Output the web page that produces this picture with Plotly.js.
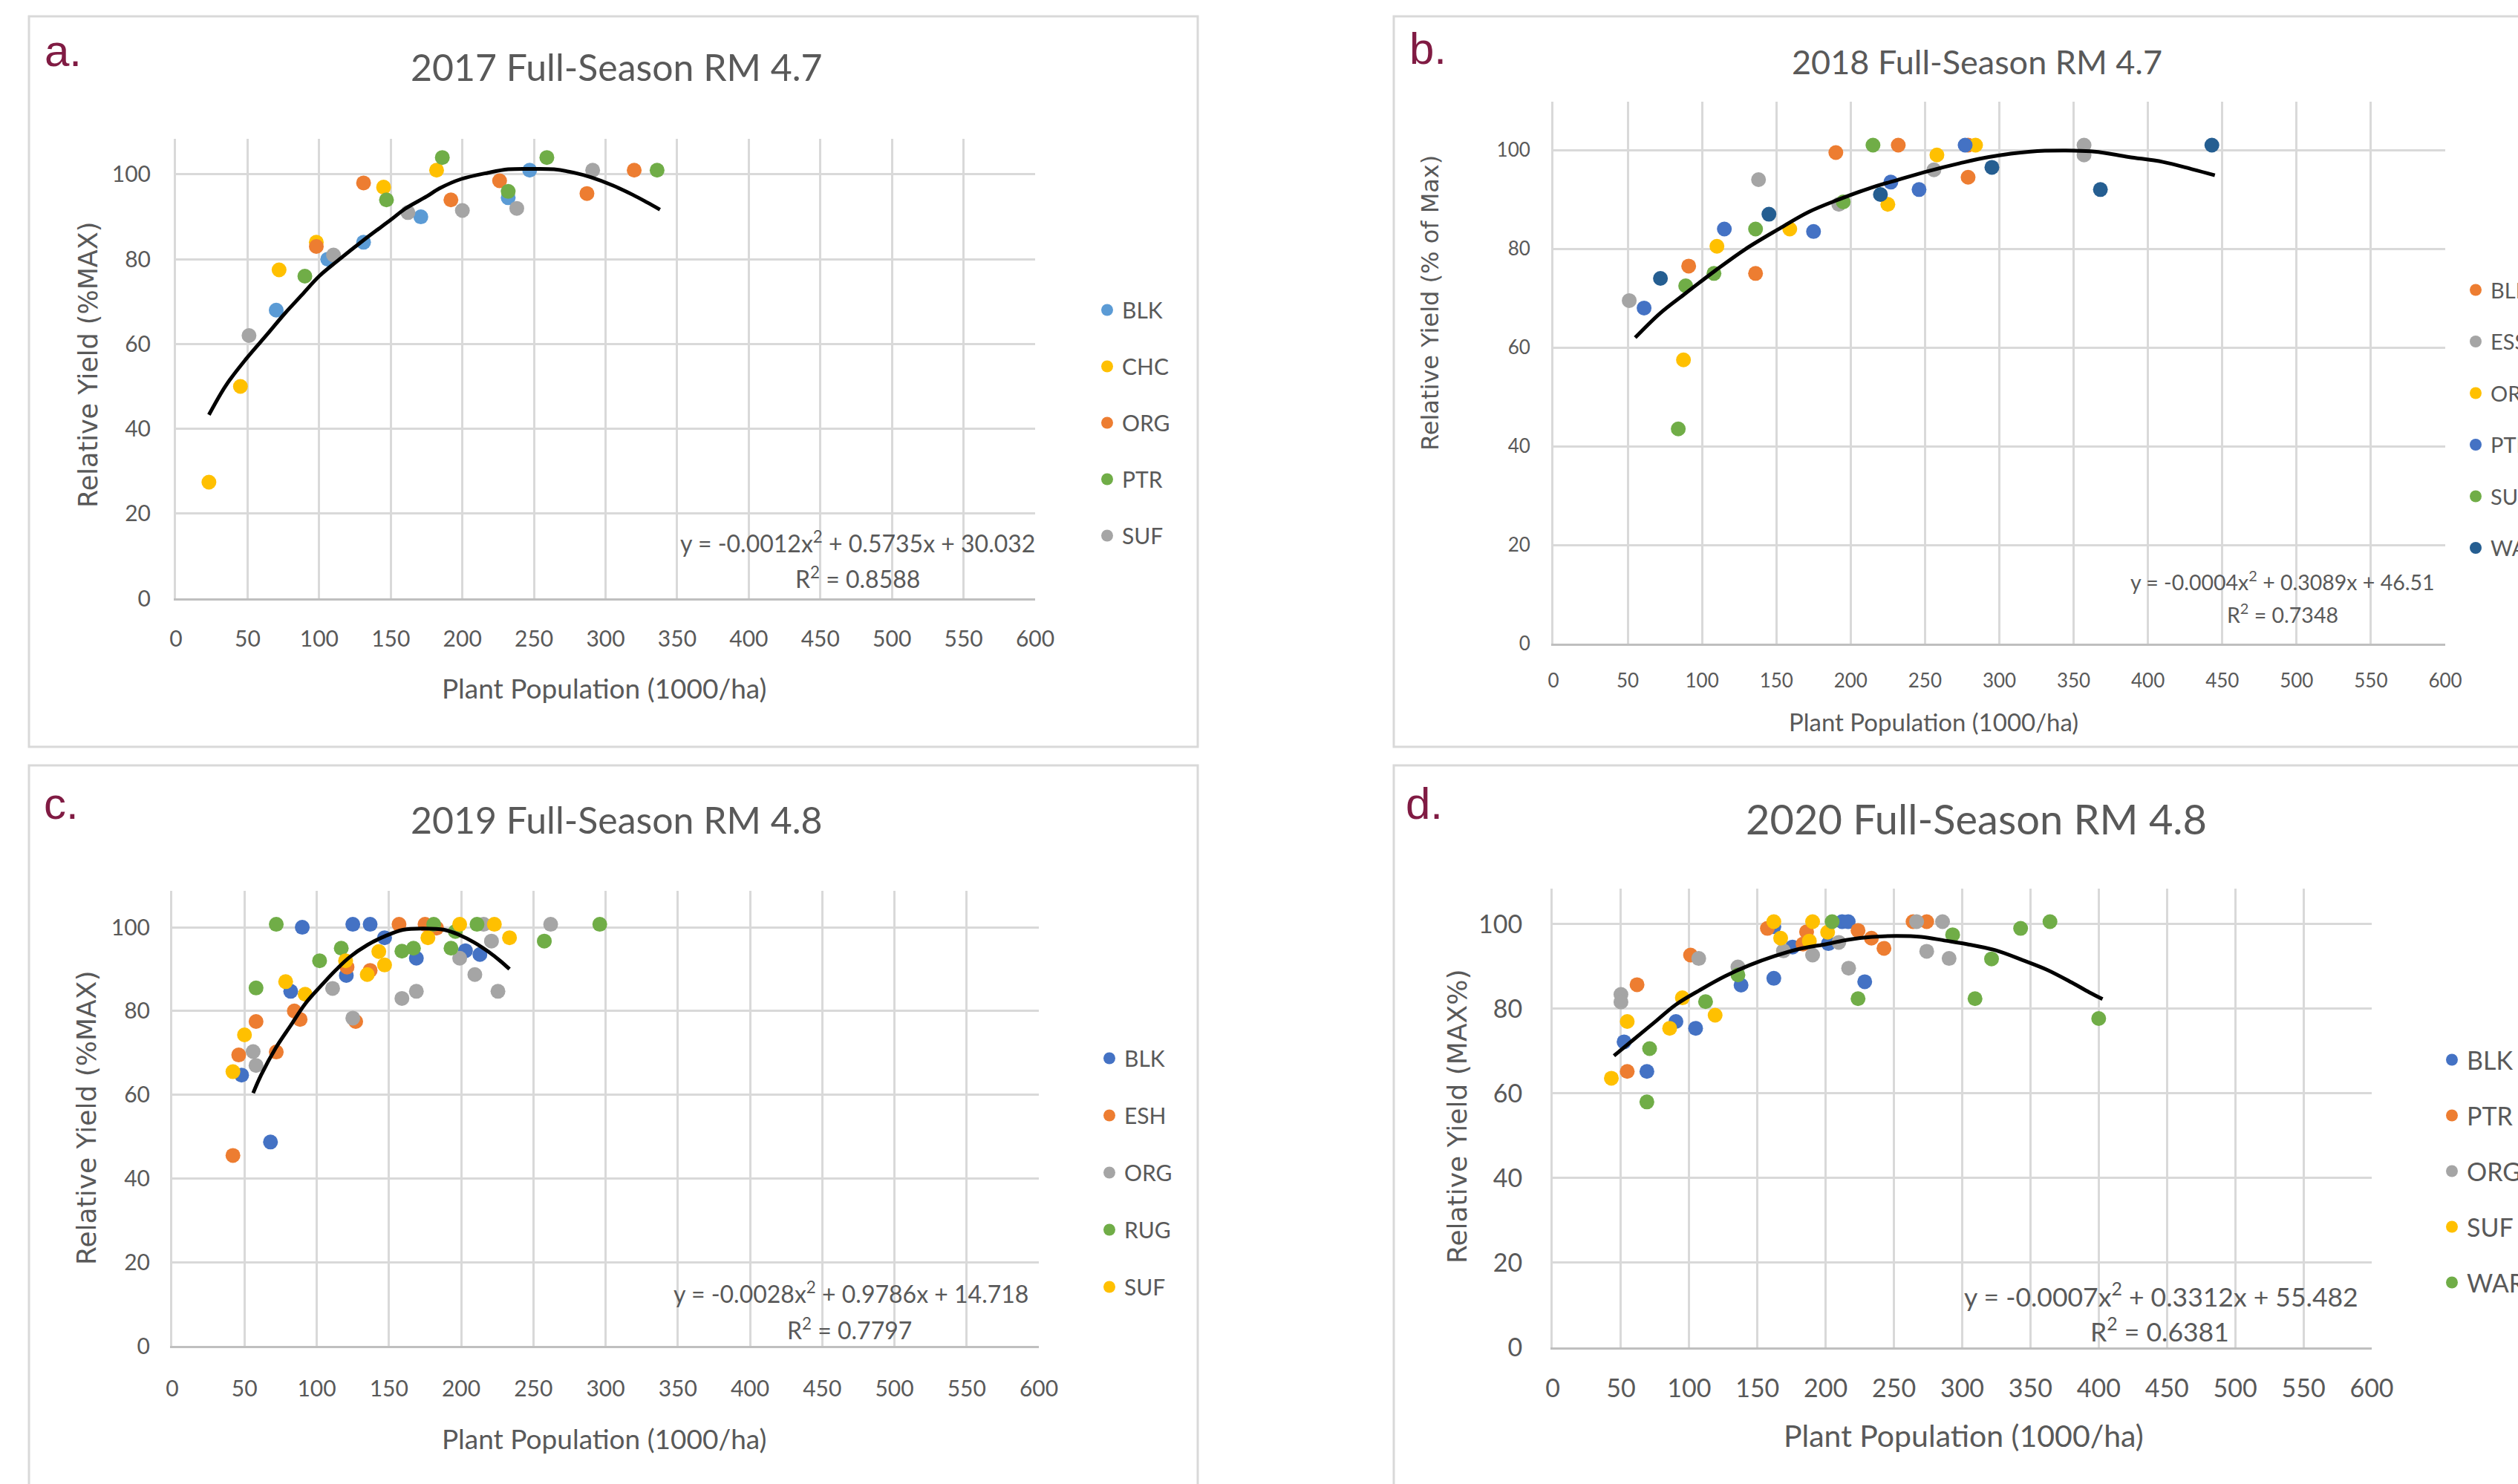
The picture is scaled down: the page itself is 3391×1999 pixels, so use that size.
<!DOCTYPE html>
<html>
<head>
<meta charset="utf-8">
<script src="https://cdn.plot.ly/plotly-3.0.1.min.js"></script>
<style>html,body{margin:0;padding:0;background:#fff;}#chart{width:3391px;height:1999px;}</style>
</head>
<body>
<div id="chart"></div>
<script>
// ---------- DATA ----------
// Panel a: 2017 Full-Season RM 4.7
const a_series = ['BLK', 'CHC', 'ORG', 'PTR', 'SUF'];
const a_BLK_x = [70, 106, 131, 171, 232, 247];
const a_BLK_y = [68, 80, 84, 90, 94.5, 101];
const a_CHC_x = [23, 45, 72, 98, 145, 182];
const a_CHC_y = [27.4, 50, 77.5, 84, 97, 101];
const a_ORG_x = [98, 131, 192, 226, 287, 320];
const a_ORG_y = [83, 98, 94, 98.5, 95.5, 101];
const a_PTR_x = [90, 147, 186, 232, 259, 336];
const a_PTR_y = [76, 94, 104, 96, 104, 101];
const a_SUF_x = [51, 110, 162, 200, 238, 291];
const a_SUF_y = [62, 81, 91, 91.5, 92, 101];
// polynomial trendline
const a_trend_x = [23, 35, 49, 64, 76, 88, 100, 112, 131, 150, 160, 175, 184, 199, 218, 232, 248, 264, 278, 290, 305, 319, 329, 338];
const a_trend_y = [43.3, 50.3, 56.5, 62.4, 67.2, 71.6, 76, 79.4, 84.5, 89.3, 91.9, 94.8, 96.7, 98.9, 100.4, 101.2, 101.3, 101.2, 100.4, 99.3, 97.4, 95.2, 93.4, 91.7];
const a_eq = 'y = -0.0012x<sup>2</sup> + 0.5735x + 30.032';
const a_r2 = 'R<sup>2</sup> = 0.8588';

// Panel b: 2018 Full-Season RM 4.7
const b_series = ['BLK', 'ESS', 'ORG', 'PTR', 'SUF', 'WAR'];
const b_BLK_x = [91, 136, 190, 232, 279, 279];
const b_BLK_y = [76.5, 75, 99.5, 101, 101, 94.5];
const b_ESS_x = [51, 138, 192, 256, 357, 357];
const b_ESS_y = [69.5, 94, 89, 96, 101, 99];
const b_ORG_x = [87.5, 110, 159, 225, 258, 284];
const b_ORG_y = [57.5, 80.5, 84, 89, 99, 101];
const b_PTR_x = [61, 115, 175, 227, 246, 277];
const b_PTR_y = [68, 84, 83.5, 93.5, 92, 101];
const b_SUF_x = [84, 89, 108, 136, 195, 215];
const b_SUF_y = [43.5, 72.5, 75, 84, 89.5, 101];
const b_WAR_x = [72, 145, 220, 295, 368, 443];
const b_WAR_y = [74, 87, 91, 96.5, 92, 101];
const b_trend_x = [55, 72, 89, 109, 129, 151, 172, 192, 212, 232, 253, 273, 293, 321, 344, 364, 387, 410, 430, 445];
const b_trend_y = [62.0, 67.0, 71.0, 75.6, 79.9, 83.9, 87.5, 90.0, 92.2, 94.0, 95.8, 97.3, 98.6, 99.7, 99.9, 99.7, 98.6, 97.6, 96.1, 94.9];
const b_eq = 'y = -0.0004x<sup>2</sup> + 0.3089x + 46.51';
const b_r2 = 'R<sup>2</sup> = 0.7348';

// Panel c: 2019 Full-Season RM 4.8
const c_series = ['BLK', 'ESH', 'ORG', 'RUG', 'SUF'];
const c_BLK_x = [48, 68, 82, 90, 120.5, 125, 137, 147, 169, 203, 213];
const c_BLK_y = [64.7, 48.7, 84.7, 100, 88.5, 100.7, 100.7, 97.5, 92.6, 94.4, 93.5];
const c_ESH_x = [42, 46, 58, 72, 84.5, 88.5, 121, 127, 137, 157, 175, 183];
const c_ESH_y = [45.5, 69.5, 77.5, 70.2, 80, 78, 90.5, 77.5, 89.7, 100.7, 100.7, 99.8];
const c_ORG_x = [56, 58, 111, 125, 159, 169, 199, 209.5, 215.6, 221, 225.5, 262];
const c_ORG_y = [70.3, 67, 85.4, 78.3, 83, 84.7, 92.6, 88.7, 100.7, 96.7, 84.7, 100.7];
const c_RUG_x = [58, 72, 102, 117, 159, 167, 181, 193, 196, 211, 257.6, 296];
const c_RUG_y = [85.5, 100.7, 92, 95, 94.3, 95, 100.7, 95, 99, 100.7, 96.7, 100.7];
const c_SUF_x = [42, 50, 78.5, 92, 120, 135, 143, 147, 177, 199, 223, 233.5];
const c_SUF_y = [65.5, 74.3, 87, 84, 92, 88.7, 94.2, 91, 97.5, 100.7, 100.7, 97.5];
const c_trend_x = [56, 61.5, 71.7, 81.9, 92.2, 102.4, 112.7, 122.9, 135.2, 147.5, 159.7, 174.1, 188.4, 198.6, 208.9, 219.1, 227.3, 233.5];
const c_trend_y = [60.4, 64.7, 71.2, 76.5, 81.8, 85.8, 89.6, 92.9, 95.8, 97.9, 99.4, 99.7, 99.4, 98.2, 96.4, 94.1, 91.9, 90.0];
const c_eq = 'y = -0.0028x<sup>2</sup> + 0.9786x + 14.718';
const c_r2 = 'R<sup>2</sup> = 0.7797';

// Panel d: 2020 Full-Season RM 4.8
const d_series = ['BLK', 'PTR', 'ORG', 'SUF', 'WAR'];
const d_BLK_x = [52.3, 69, 90.3, 104.7, 138, 162, 162, 175.7, 202, 212, 216.5, 228.6];
const d_BLK_y = [72.2, 65.2, 77, 75.4, 85.6, 87.2, 99.4, 94.6, 95.4, 100.6, 100.6, 86.4];
const d_PTR_x = [54.6, 61.8, 101, 157.3, 183.4, 186, 223.7, 233.5, 242.7, 264, 274];
const d_PTR_y = [65.2, 85.7, 92.7, 99, 95.3, 98.2, 98.5, 96.7, 94.3, 100.6, 100.6];
const d_ORG_x = [50, 50, 107, 135.7, 169, 190.4, 209.6, 216.8, 266.6, 274, 285.6, 290.4];
const d_ORG_y = [83.4, 81.6, 91.9, 89.9, 93.7, 92.7, 95.7, 89.6, 100.6, 93.6, 100.6, 91.9];
const d_SUF_x = [43, 54.6, 85.7, 95, 119, 162, 167, 188, 190.4, 201.4];
const d_SUF_y = [63.6, 77, 75.4, 82.6, 78.5, 100.6, 96.7, 96, 100.6, 98.1];
const d_WAR_x = [69, 71, 112, 135.7, 204.7, 223.7, 293, 309.4, 321.5, 342.8, 364.3, 400];
const d_WAR_y = [58, 70.6, 81.7, 88, 100.6, 82.4, 97.5, 82.4, 91.8, 99, 100.6, 77.7];
const d_trend_x = [44.9, 59.5, 74.9, 90.3, 108.2, 126.2, 144.2, 162.1, 180.1, 200.6, 216, 234, 252, 270, 287.9, 303.3, 323.8, 344.3, 362.3, 380.3, 393.1, 402.8];
const d_trend_y = [68.9, 72.8, 76.9, 81.0, 84.5, 87.7, 90.3, 92.4, 94.1, 95.3, 96.3, 97.0, 97.2, 97.0, 96.1, 95.3, 93.9, 91.5, 89.2, 86.2, 83.9, 82.3];
const d_eq = 'y = -0.0007x<sup>2</sup> + 0.3312x + 55.482';
const d_r2 = 'R<sup>2</sup> = 0.6381';

const xTicks = [0, 50, 100, 150, 200, 250, 300, 350, 400, 450, 500, 550, 600];
const yTicks = [0, 20, 40, 60, 80, 100];

// ---------- STYLE ----------
const W = 3391, H = 1999;
const fx = p => p / W;
const fy = p => 1 - p / H;
const FONT = 'Lato, "Open Sans", Arial, sans-serif';
const YFONT = '"DejaVu Sans", Verdana, sans-serif';
const GREY = '#595959';
const ORANGE = '#ED7D31', GRAYC = '#A5A5A5', YELLOW = '#FFC000', GREEN = '#70AD47', BLUE = '#4472C4', LBLUE = '#5B9BD5', DBLUE = '#255E91';

const colorsA = { BLK: LBLUE, CHC: YELLOW, ORG: ORANGE, PTR: GREEN, SUF: GRAYC };
const colorsB = { BLK: ORANGE, ESS: GRAYC, ORG: YELLOW, PTR: BLUE, SUF: GREEN, WAR: DBLUE };
const colorsC = { BLK: BLUE, ESH: ORANGE, ORG: GRAYC, RUG: GREEN, SUF: YELLOW };
const colorsD = { BLK: BLUE, PTR: ORANGE, ORG: GRAYC, SUF: YELLOW, WAR: GREEN };

const dataSets = {
  a: { BLK: [a_BLK_x, a_BLK_y], CHC: [a_CHC_x, a_CHC_y], ORG: [a_ORG_x, a_ORG_y], PTR: [a_PTR_x, a_PTR_y], SUF: [a_SUF_x, a_SUF_y] },
  b: { BLK: [b_BLK_x, b_BLK_y], ESS: [b_ESS_x, b_ESS_y], ORG: [b_ORG_x, b_ORG_y], PTR: [b_PTR_x, b_PTR_y], SUF: [b_SUF_x, b_SUF_y], WAR: [b_WAR_x, b_WAR_y] },
  c: { BLK: [c_BLK_x, c_BLK_y], ESH: [c_ESH_x, c_ESH_y], ORG: [c_ORG_x, c_ORG_y], RUG: [c_RUG_x, c_RUG_y], SUF: [c_SUF_x, c_SUF_y] },
  d: { BLK: [d_BLK_x, d_BLK_y], PTR: [d_PTR_x, d_PTR_y], ORG: [d_ORG_x, d_ORG_y], SUF: [d_SUF_x, d_SUF_y], WAR: [d_WAR_x, d_WAR_y] }
};

const panels = [
  { key: 'a', series: a_series, colors: colorsA, tx: a_trend_x, ty: a_trend_y, xa: 'x', ya: 'y', legend: 'legend' },
  { key: 'b', series: b_series, colors: colorsB, tx: b_trend_x, ty: b_trend_y, xa: 'x2', ya: 'y2', legend: 'legend2' },
  { key: 'c', series: c_series, colors: colorsC, tx: c_trend_x, ty: c_trend_y, xa: 'x3', ya: 'y3', legend: 'legend3' },
  { key: 'd', series: d_series, colors: colorsD, tx: d_trend_x, ty: d_trend_y, xa: 'x4', ya: 'y4', legend: 'legend4' }
];

const traces = [];
panels.forEach(p => {
  p.series.forEach(s => {
    const [xs, ys] = dataSets[p.key][s];
    traces.push({
      type: 'scatter', mode: 'markers', name: s, x: xs, y: ys,
      xaxis: p.xa, yaxis: p.ya, legend: p.legend, legendgroup: p.key + s,
      marker: { color: p.colors[s], size: 20, line: { width: 0 } },
      hoverinfo: 'skip'
    });
  });
  traces.push({
    type: 'scatter', mode: 'lines', x: p.tx, y: p.ty, xaxis: p.xa, yaxis: p.ya,
    showlegend: false, line: { color: '#000000', width: 5, shape: 'spline', smoothing: 1 }, hoverinfo: 'skip'
  });
});

function xAxis(x0, x1, anchor, size, standoff) {
  return {
    domain: [fx(x0), fx(x1)], range: [0, 600], tickvals: xTicks, anchor: anchor,
    showgrid: true, gridcolor: '#D9D9D9', gridwidth: 3, zeroline: false,
    showline: true, linecolor: '#BFBFBF', linewidth: 3, ticks: '',
    ticklabelstandoff: standoff, tickfont: { family: FONT, size: size, color: GREY }, fixedrange: true
  };
}
function yAxis(yb, yt, top, anchor, size, standoff) {
  return {
    domain: [fy(yb), fy(yt)], range: [0, top], tickvals: yTicks, anchor: anchor,
    showgrid: true, gridcolor: '#D9D9D9', gridwidth: 3, zeroline: false,
    showline: true, linecolor: '#D9D9D9', linewidth: 3, ticks: '',
    ticklabelstandoff: standoff, tickfont: { family: FONT, size: size, color: GREY }, fixedrange: true
  };
}

function ann(text, x, y, size, opts) {
  return Object.assign({
    text: text, x: fx(x), y: fy(y), xref: 'paper', yref: 'paper',
    xanchor: 'center', yanchor: 'middle', showarrow: false,
    font: { family: FONT, size: size, color: GREY }
  }, opts || {});
}
const LETTER = { family: '"Liberation Sans", Arial, sans-serif', size: 60, color: '#801B43' };

const annotations = [
  ann('a.', 58, 68, 60, { xanchor: 'left', font: LETTER }),
  ann('b.', 1896, 65, 60, { xanchor: 'left', font: LETTER }),
  ann('c.', 57, 1082, 60, { xanchor: 'left', font: LETTER }),
  ann('d.', 1891, 1082, 60, { xanchor: 'left', font: LETTER }),

  ann('2017 Full-Season RM 4.7', 830, 90, 50),
  ann('2018 Full-Season RM 4.7', 2662, 83, 45),
  ann('2019 Full-Season RM 4.8', 830, 1104, 50),
  ann('2020 Full-Season RM 4.8', 2661, 1102, 56),

  ann('Plant Population (1000/ha)', 813, 926, 37),
  ann('Plant Population (1000/ha)', 2604, 972, 33),
  ann('Plant Population (1000/ha)', 813, 1937, 37),
  ann('Plant Population (1000/ha)', 2644, 1933, 41),

  ann('Relative Yield (%MAX)', 119, 492, 35, { textangle: -90, font: { family: YFONT, size: 35, color: GREY } }),
  ann('Relative Yield (% of Max)', 1926, 408, 32, { textangle: -90, font: { family: YFONT, size: 32, color: GREY } }),
  ann('Relative Yield (%MAX)', 116, 1506, 36, { textangle: -90, font: { family: YFONT, size: 36, color: GREY } }),
  ann('Relative Yield (MAX%)', 1962, 1504, 36, { textangle: -90, font: { family: YFONT, size: 36, color: GREY } }),

  ann(a_eq, 1155, 730, 32),
  ann(a_r2, 1155, 778, 32),
  ann(b_eq, 3074, 782, 28.5),
  ann(b_r2, 3074, 826, 28.5),
  ann(c_eq, 1146, 1741, 32),
  ann(c_r2, 1144, 1790, 32),
  ann(d_eq, 2910, 1744, 35.5),
  ann(d_r2, 2908, 1791, 35.5)
];

const BOX = { color: '#D9D9D9', width: 3 };
const shapes = [
  { type: 'rect', xref: 'paper', yref: 'paper', x0: fx(39), x1: fx(1613), y0: fy(1006), y1: fy(22), line: BOX, layer: 'below' },
  { type: 'rect', xref: 'paper', yref: 'paper', x0: fx(1877), x1: 1.02, y0: fy(1006), y1: fy(22), line: BOX, layer: 'below' },
  { type: 'rect', xref: 'paper', yref: 'paper', x0: fx(39), x1: fx(1613), y0: -0.02, y1: fy(1031), line: BOX, layer: 'below' },
  { type: 'rect', xref: 'paper', yref: 'paper', x0: fx(1877), x1: 1.02, y0: -0.02, y1: fy(1031), line: BOX, layer: 'below' }
];

function legend(markerX, firstY, size, spacing) {
  const h = size * 1.3;
  return {
    x: fx(markerX - 20), y: fy(firstY - 5 - h / 2), xanchor: 'left', yanchor: 'top',
    xref: 'paper', yref: 'paper',
    font: { family: FONT, size: size, color: GREY }, bgcolor: 'rgba(0,0,0,0)',
    borderwidth: 0, traceorder: 'grouped', tracegroupgap: spacing - h - 3, itemwidth: 30
  };
}

const layout = {
  width: W, height: H,
  margin: { l: 0, r: 0, t: 0, b: 0, pad: 0, autoexpand: false },
  paper_bgcolor: '#FFFFFF', plot_bgcolor: 'rgba(0,0,0,0)',
  showlegend: true, hovermode: false,
  xaxis: xAxis(237, 1394, 'y', 30, 26),
  yaxis: yAxis(806, 187, 108.4, 'x', 30, 25),
  xaxis2: xAxis(2092, 3293, 'y2', 26, 25),
  yaxis2: yAxis(867, 137, 109.8, 'x2', 26, 23),
  xaxis3: xAxis(232, 1399, 'y3', 30, 29),
  yaxis3: yAxis(1813, 1200, 108.7, 'x3', 30, 21),
  xaxis4: xAxis(2091, 3194, 'y4', 34, 23),
  yaxis4: yAxis(1815, 1197, 108.4, 'x4', 34, 31),
  legend: legend(1491, 416, 30, 76),
  legend2: legend(3334, 389, 29, 69.5),
  legend3: legend(1494, 1424, 30, 77),
  legend4: legend(3302, 1426, 34, 75),
  annotations: annotations,
  shapes: shapes
};

Plotly.newPlot('chart', traces, layout, { staticPlot: true, displayModeBar: false });
</script>
</body>
</html>
